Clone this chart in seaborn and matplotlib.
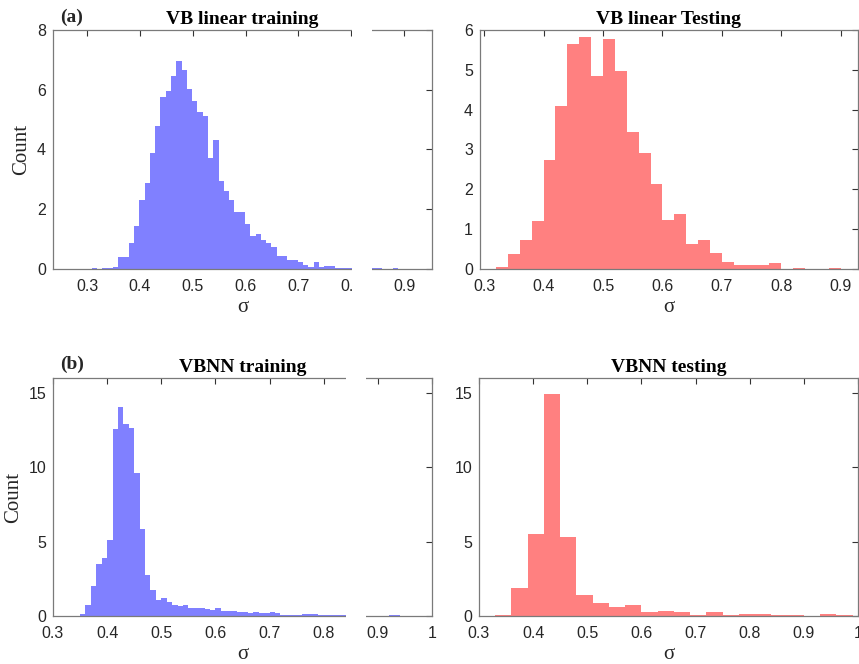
import numpy as np
import pandas as pd
import matplotlib
matplotlib.use("Agg")
import matplotlib.pyplot as plt
import matplotlib.transforms as mtransforms
from matplotlib.patches import Rectangle
from matplotlib.ticker import FuncFormatter
import seaborn as sns

# ---------------- data (bar heights) ----------------
# (a) VB linear training: bins of width 0.01 starting at 0.309
vb_train_start = 0.309
vb_train_width = 0.01
vb_train_heights = [
    0.03, 0.00, 0.03, 0.03, 0.08, 0.41, 0.39, 0.86, 1.44, 2.30,
    2.89, 3.87, 4.79, 5.75, 5.95, 6.47, 6.95, 6.66, 6.04, 5.64,
    5.26, 5.12, 3.72, 4.31, 2.94, 2.62, 2.31, 1.92, 1.92, 1.51,
    1.12, 1.17, 0.97, 0.87, 0.75, 0.42, 0.42, 0.29, 0.29, 0.23,
    0.13, 0.06, 0.23, 0.06, 0.11, 0.11, 0.03, 0.03, 0.03, 0.03,
    0.03, 0.03, 0.03, 0.03, 0.03, 0.00, 0.00, 0.03,
]

# VB linear Testing: bins of width 0.02 starting at 0.32
vb_test_start = 0.32
vb_test_width = 0.02
vb_test_heights = [
    0.06, 0.37, 0.73, 1.20, 2.74, 4.09, 5.66, 5.83, 4.85, 5.77,
    4.98, 3.45, 2.90, 2.13, 1.22, 1.38, 0.63, 0.73, 0.41, 0.18,
    0.10, 0.10, 0.10, 0.15, 0.00, 0.03, 0.00, 0.00, 0.03,
]

# (b) VBNN training: bins of width 0.01 starting at 0.34
nn_train_start = 0.34
nn_train_width = 0.01
nn_train_heights = [
    0.03, 0.11, 0.74, 2.04, 3.47, 3.87, 5.10, 12.54, 14.08, 12.90,
    12.63, 9.60, 5.82, 2.78, 1.72, 1.07, 1.19, 0.92, 0.72, 0.67,
    0.72, 0.56, 0.51, 0.51, 0.47, 0.40, 0.51, 0.34, 0.34, 0.34,
    0.25, 0.25, 0.20, 0.25, 0.20, 0.20, 0.27, 0.22, 0.07, 0.07,
    0.07, 0.07, 0.13, 0.13, 0.13, 0.07, 0.07, 0.07, 0.07, 0.07,
    0.04, 0.04, 0.02, 0.02, 0.03, 0.03, 0.00, 0.00, 0.07, 0.07,
]

# VBNN testing: bins of width 0.03 starting at 0.33
nn_test_start = 0.33
nn_test_width = 0.03
nn_test_heights = [
    0.05, 1.90, 5.50, 14.95, 5.28, 1.39, 0.85, 0.60, 0.76, 0.25,
    0.34, 0.25, 0.05, 0.29, 0.05, 0.13, 0.12, 0.06, 0.06, 0.00,
    0.15, 0.07,
]

titles = ["VB linear training", "VB linear Testing", "VBNN training", "VBNN testing"]
panel_tags = ["(a)", "(b)"]
xticks_top = [0.3, 0.4, 0.5, 0.6, 0.7, 0.8, 0.9]
xticks_bottom = [0.3, 0.4, 0.5, 0.6, 0.7, 0.8, 0.9, 1.0]

# ---------------- style ----------------
sns.set_theme(style="white")
plt.rcParams["font.family"] = ["Liberation Sans", "DejaVu Sans"]
SERIF = ["Liberation Serif", "DejaVu Serif"]
BLUE = "#8080FF"
RED = "#FF8080"
SPINE = "#7a7a7a"
TXT = "#262626"

W, H = 859, 664
fig = plt.figure(figsize=(W / 100, H / 100), dpi=100)


def px_axes(l, r, t, b):
    return fig.add_axes([l / W, 1 - b / H, (r - l) / W, (b - t) / H])


def hist_panel(ax, start, width, heights, color):
    n = len(heights)
    centers = [start + width * (i + 0.5) for i in range(n)]
    df = pd.DataFrame({"sigma": centers, "h": heights})
    sns.histplot(data=df, x="sigma", weights="h", binwidth=width,
                 binrange=(start, start + n * width), color=color,
                 alpha=1.0, linewidth=0, ax=ax)


def style_axes(ax, xlim, ylim, xticks, yticks, title, ylabel):
    ax.set_xlim(*xlim)
    ax.set_ylim(*ylim)
    ax.set_xticks(xticks)
    ax.set_yticks(yticks)
    ax.xaxis.set_major_formatter(FuncFormatter(lambda v, p: f"{v:g}"))
    ax.tick_params(direction="in", top=True, right=True, length=4, width=0.8,
                   color="#333333", labelsize=11.5, labelcolor=TXT)
    ax.tick_params(axis="x", pad=7)
    ax.tick_params(axis="y", pad=5)
    for s in ax.spines.values():
        s.set_color(SPINE)
        s.set_linewidth(0.9)
    ax.set_title(title, fontfamily=SERIF, fontweight="bold", fontsize=14,
                 color="black", pad=4)
    ax.set_xlabel("σ", fontfamily=SERIF, fontsize=15, color=TXT, labelpad=3)
    if ylabel:
        ax.set_ylabel(ylabel, fontfamily=SERIF, fontsize=15, color=TXT, labelpad=4)
    else:
        ax.set_ylabel("")


def gap(ax, x0, x1):
    tr = mtransforms.blended_transform_factory(ax.transData, ax.transAxes)
    ax.add_patch(Rectangle((x0, -0.12), x1 - x0, 1.16, transform=tr,
                           facecolor="white", edgecolor="none", clip_on=False,
                           zorder=20))


# (a) VB linear training
ax1 = px_axes(53, 432, 30, 269)
hist_panel(ax1, vb_train_start, vb_train_width, vb_train_heights, BLUE)
style_axes(ax1, (0.2356, 0.953), (0, 8), xticks_top, [0, 2, 4, 6, 8],
           titles[0], "Count")
gap(ax1, 0.802, 0.840)

# VB linear Testing
ax2 = px_axes(480, 858, 30, 269)
hist_panel(ax2, vb_test_start, vb_test_width, vb_test_heights, RED)
style_axes(ax2, (0.293, 0.929), (0, 6), xticks_top, [0, 1, 2, 3, 4, 5, 6],
           titles[1], None)

# (b) VBNN training
ax3 = px_axes(53, 432, 378, 616)
hist_panel(ax3, nn_train_start, nn_train_width, nn_train_heights, BLUE)
style_axes(ax3, (0.3, 1.0), (0, 16), xticks_bottom, [0, 5, 10, 15],
           titles[2], "Count")
gap(ax3, 0.841, 0.879)

# VBNN testing
ax4 = px_axes(479, 858, 378, 616)
hist_panel(ax4, nn_test_start, nn_test_width, nn_test_heights, RED)
style_axes(ax4, (0.3, 1.0), (0, 16), xticks_bottom, [0, 5, 10, 15],
           titles[3], None)

fig.text(60 / W, 1 - 17 / H, panel_tags[0], fontfamily=SERIF, fontweight="bold",
         fontsize=14, va="center", ha="left")
fig.text(60 / W, 1 - 364 / H, panel_tags[1], fontfamily=SERIF, fontweight="bold",
         fontsize=14, va="center", ha="left")

fig.savefig("out.png", dpi=100, facecolor="white")
